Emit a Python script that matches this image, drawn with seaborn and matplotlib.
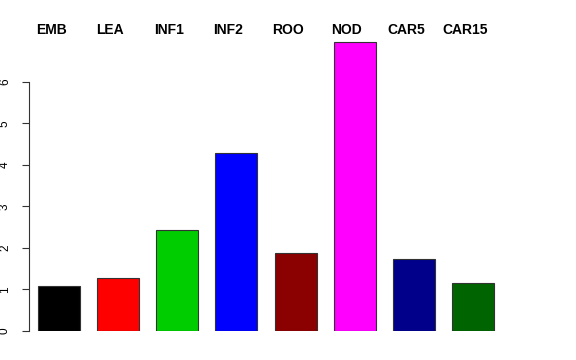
import pandas as pd
import matplotlib
matplotlib.use("Agg")
import matplotlib.pyplot as plt
import seaborn as sns

# data
tissues = ["EMB", "LEA", "INF1", "INF2", "ROO", "NOD", "CAR5", "CAR15"]
values = [1.08, 1.28, 2.43, 4.28, 1.88, 6.95, 1.73, 1.16]
bar_colors = ["#000000", "#FF0000", "#00CD00", "#0000FF", "#8B0000", "#FF00FF", "#00008B", "#006400"]

df = pd.DataFrame({"tissue": tissues, "value": values})

sns.set_style("white")
plt.rcParams["font.family"] = ["Liberation Sans", "DejaVu Sans"]
plt.rcParams["text.color"] = "black"
plt.rcParams["ytick.color"] = "black"

fig = plt.figure(figsize=(5.76, 3.6), dpi=100)
ax = fig.add_axes([29 / 576, 29 / 360, (520 - 29) / 576, (331 - 40) / 360])

sns.barplot(data=df, x="tissue", y="value", hue="tissue", palette=bar_colors,
            saturation=1, width=0.71, edgecolor="#333333", linewidth=0.8,
            legend=False, ax=ax)

ax.set_xlim(-0.507, 7.795)
ax.set_ylim(0, 7.01)

# labels above the bars, bold, as in the R plot
for i, name in enumerate(tissues):
    ax.text(i - 0.135, 7.25, name, ha="center", va="center", fontsize=10,
            fontweight="bold", color="black", clip_on=False)

sns.despine(ax=ax, left=False, bottom=True)
ax.spines["left"].set_bounds(0, 6)
ax.spines["left"].set_linewidth(0.8)
ax.spines["left"].set_color("#333333")
ax.set_yticks(range(7))
ax.set_yticklabels([str(v) for v in range(7)], rotation=90, va="center", fontsize=8.5)
ax.tick_params(axis="y", length=5, width=0.8, color="#333333", labelcolor="black",
               pad=8, left=True)
ax.set_xticks([])
ax.set_xlabel("")
ax.set_ylabel("")

fig.savefig("out.png", dpi=100)
